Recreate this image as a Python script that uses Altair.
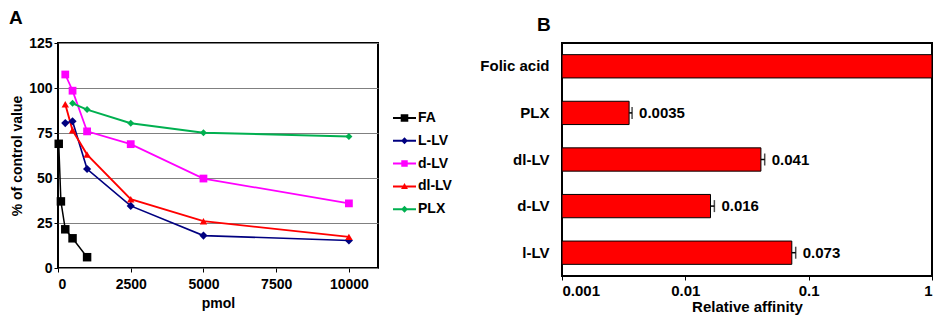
import altair as alt
import pandas as pd

# ---------------- Panel A data ----------------
series = ["FA", "L-LV", "d-LV", "dl-LV", "PLX"]
series_colors = ["#000000", "#000080", "#FF00FF", "#FF0000", "#00B050"]

fa_x = [25, 100, 250, 500, 1000]
fa_y = [69, 37, 21.5, 16.5, 6]
llv_x = [250, 500, 1000, 2500, 5000, 10000]
llv_y = [80.5, 81.5, 55, 34.5, 18, 15.3]
dlv_x = [250, 500, 1000, 2500, 5000, 10000]
dlv_y = [107.5, 98.5, 75.9, 68.8, 49.7, 35.9]
dllv_x = [250, 500, 1000, 2500, 5000, 10000]
dllv_y = [91, 76.5, 63, 38.2, 26, 17.3]
plx_x = [500, 1000, 2500, 5000, 10000]
plx_y = [91.5, 88, 80.4, 75.1, 73.1]

x_ticks_A = [0, 2500, 5000, 7500, 10000]
y_ticks_A = [0, 25, 50, 75, 100, 125]

# ---------------- Panel B data ----------------
compounds = ["Folic acid", "PLX", "dl-LV", "d-LV", "l-LV"]
affinity = [1, 0.0035, 0.041, 0.016, 0.073]
affinity_err = [0, 0.0002, 0.003, 0.0012, 0.0055]
affinity_labels = ["", "0.0035", "0.041", "0.016", "0.073"]
x_ticks_B = [0.001, 0.01, 0.1, 1]

FONT = "Liberation Sans"
FS_A = 14
FS_B = 15

rows = []
for name, xs, ys in [("FA", fa_x, fa_y), ("L-LV", llv_x, llv_y), ("d-LV", dlv_x, dlv_y),
                     ("dl-LV", dllv_x, dllv_y), ("PLX", plx_x, plx_y)]:
    for xv, yv in zip(xs, ys):
        rows.append({"series": name, "pmol": xv, "pct": yv})
dfA = pd.DataFrame(rows)

xA = alt.X("pmol:Q", scale=alt.Scale(domain=[0, 11000], nice=False),
           axis=alt.Axis(values=x_ticks_A, format="d", title="pmol", grid=False,
                         domain=False, tickSize=4, labelPadding=5, titlePadding=5,
                         labelFontSize=FS_A, titleFontSize=FS_A))
yA = alt.Y("pct:Q", scale=alt.Scale(domain=[0, 125], nice=False),
           axis=alt.Axis(values=y_ticks_A, title="% of control value", grid=True,
                         gridColor="#808080", gridWidth=1, domain=False, tickSize=4,
                         labelPadding=2, titlePadding=4,
                         labelFontSize=FS_A, titleFontSize=FS_A))
colorA = alt.Color("series:N", scale=alt.Scale(domain=series, range=series_colors), legend=None)

lines = alt.Chart(dfA).mark_line().encode(
    x=xA, y=yA, color=colorA, order="pmol:Q",
    strokeWidth=alt.StrokeWidth("series:N", scale=alt.Scale(domain=series, range=[1.5, 2, 2, 2, 2]),
                                legend=None),
)
points = alt.Chart(dfA).mark_point(filled=True, opacity=1).encode(
    x=xA, y=yA, color=colorA,
    shape=alt.Shape("series:N", scale=alt.Scale(domain=series,
                    range=["square", "diamond", "square", "triangle-up", "diamond"]), legend=None),
    size=alt.Size("series:N", scale=alt.Scale(domain=series, range=[72, 49, 42, 45, 49]), legend=None),
)
plotA = alt.layer(lines, points)

# ---------------- Legend of panel A (line + marker swatches, right of the plot) ----------------
LN = "M-1,-0.087H1V0.087H-1Z"
legend_paths = [
    LN + "M-0.33,-0.33H0.33V0.33H-0.33Z",
    LN + "M0,-0.3L0.3,0L0,0.3L-0.3,0Z",
    LN + "M-0.28,-0.28H0.28V0.28H-0.28Z",
    LN + "M0,-0.3L0.3,0.22L-0.3,0.22Z",
    LN + "M0,-0.3L0.3,0L0,0.3L-0.3,0Z",
]
dfL = pd.DataFrame({"series": series, "row": list(range(len(series))), "col": [0] * len(series)})
# legend placement scales: column 0 sits just right of the plot frame, rows 22.8 px apart
xL = alt.X("col:Q", axis=None, scale=alt.Scale(domain=[-346.5, -26.5], nice=False, zero=False))
yL = alt.Y("row:Q", axis=None, scale=alt.Scale(domain=[-3.289, 6.579], nice=False, zero=False,
                                                reverse=True))
leg_sym = alt.Chart(dfL).mark_point(filled=True, opacity=1, size=529, strokeWidth=0).encode(
    x=xL, y=yL,
    shape=alt.Shape("series:N", scale=alt.Scale(domain=series, range=legend_paths), legend=None),
    color=colorA,
)
leg_txt = alt.Chart(dfL).mark_text(align="left", baseline="middle", dx=13.5, font=FONT,
                                   fontSize=FS_A, fontWeight="bold", color="black").encode(
    x=xL, y=yL, text="series:N")
legendA = alt.layer(leg_sym, leg_txt)

panelA = alt.layer(plotA, legendA).resolve_scale(
    x="independent", y="independent", shape="independent"
).properties(
    width=320, height=225,
    title=alt.TitleParams("A", anchor="start", frame="group", dx=-49, offset=8,
                          fontSize=19, fontWeight="bold", font=FONT, color="black"),
)

# ---------------- Panel B ----------------
dfB = pd.DataFrame({
    "compound": compounds,
    "affinity": affinity,
    "base": [0.001] * len(compounds),
    "hi": [a + e for a, e in zip(affinity, affinity_err)],
    "label": affinity_labels,
})

xB_scale = alt.Scale(type="log", domain=[0.001, 1], nice=False)
xB_axis = alt.Axis(values=x_ticks_B, format="~g", title="Relative affinity", grid=False,
                   domain=False, tickSize=4, labelPadding=3, titlePadding=1,
                   labelFontSize=FS_B, titleFontSize=FS_B)
yB = alt.Y("compound:N", sort=compounds,
           scale=alt.Scale(paddingInner=0.5, paddingOuter=0.25),
           axis=alt.Axis(title=None, ticks=False, domain=False, labelPadding=13,
                         labelFontSize=FS_B))

bars = alt.Chart(dfB).mark_bar(color="#FF0000", stroke="black", strokeWidth=1).encode(
    x=alt.X("base:Q", scale=xB_scale, axis=xB_axis),
    x2="affinity:Q",
    y=yB,
)
err_rule = alt.Chart(dfB).transform_filter("datum.affinity < 1").mark_rule(
    color="black", strokeWidth=1.5).encode(x=alt.X("affinity:Q", scale=xB_scale), x2="hi:Q", y=yB)
err_cap = alt.Chart(dfB).transform_filter("datum.affinity < 1").mark_tick(
    color="black", size=12, thickness=1.5).encode(x=alt.X("hi:Q", scale=xB_scale), y=yB)
val_text = alt.Chart(dfB).transform_filter("datum.affinity < 1").mark_text(
    align="left", baseline="middle", dx=7, font=FONT, fontSize=FS_B, fontWeight="bold",
    color="black").encode(x=alt.X("hi:Q", scale=xB_scale), y=yB, text="label:N")

panelB = alt.layer(bars, err_rule, err_cap, val_text).properties(
    width=370, height=233,
    title=alt.TitleParams("B", anchor="start", frame="group", dx=-25, offset=8,
                          fontSize=19, fontWeight="bold", font=FONT, color="black"),
)

chart = alt.hconcat(panelA, panelB, spacing=25).properties(padding=0).configure_view(
    stroke="black", strokeWidth=2
).configure_axis(
    labelFont=FONT, labelFontWeight="bold", labelColor="black",
    titleFont=FONT, titleFontWeight="bold", titleColor="black",
    tickColor="black",
)

chart.save("out.html", embed_options={"renderer": "svg", "actions": False})
